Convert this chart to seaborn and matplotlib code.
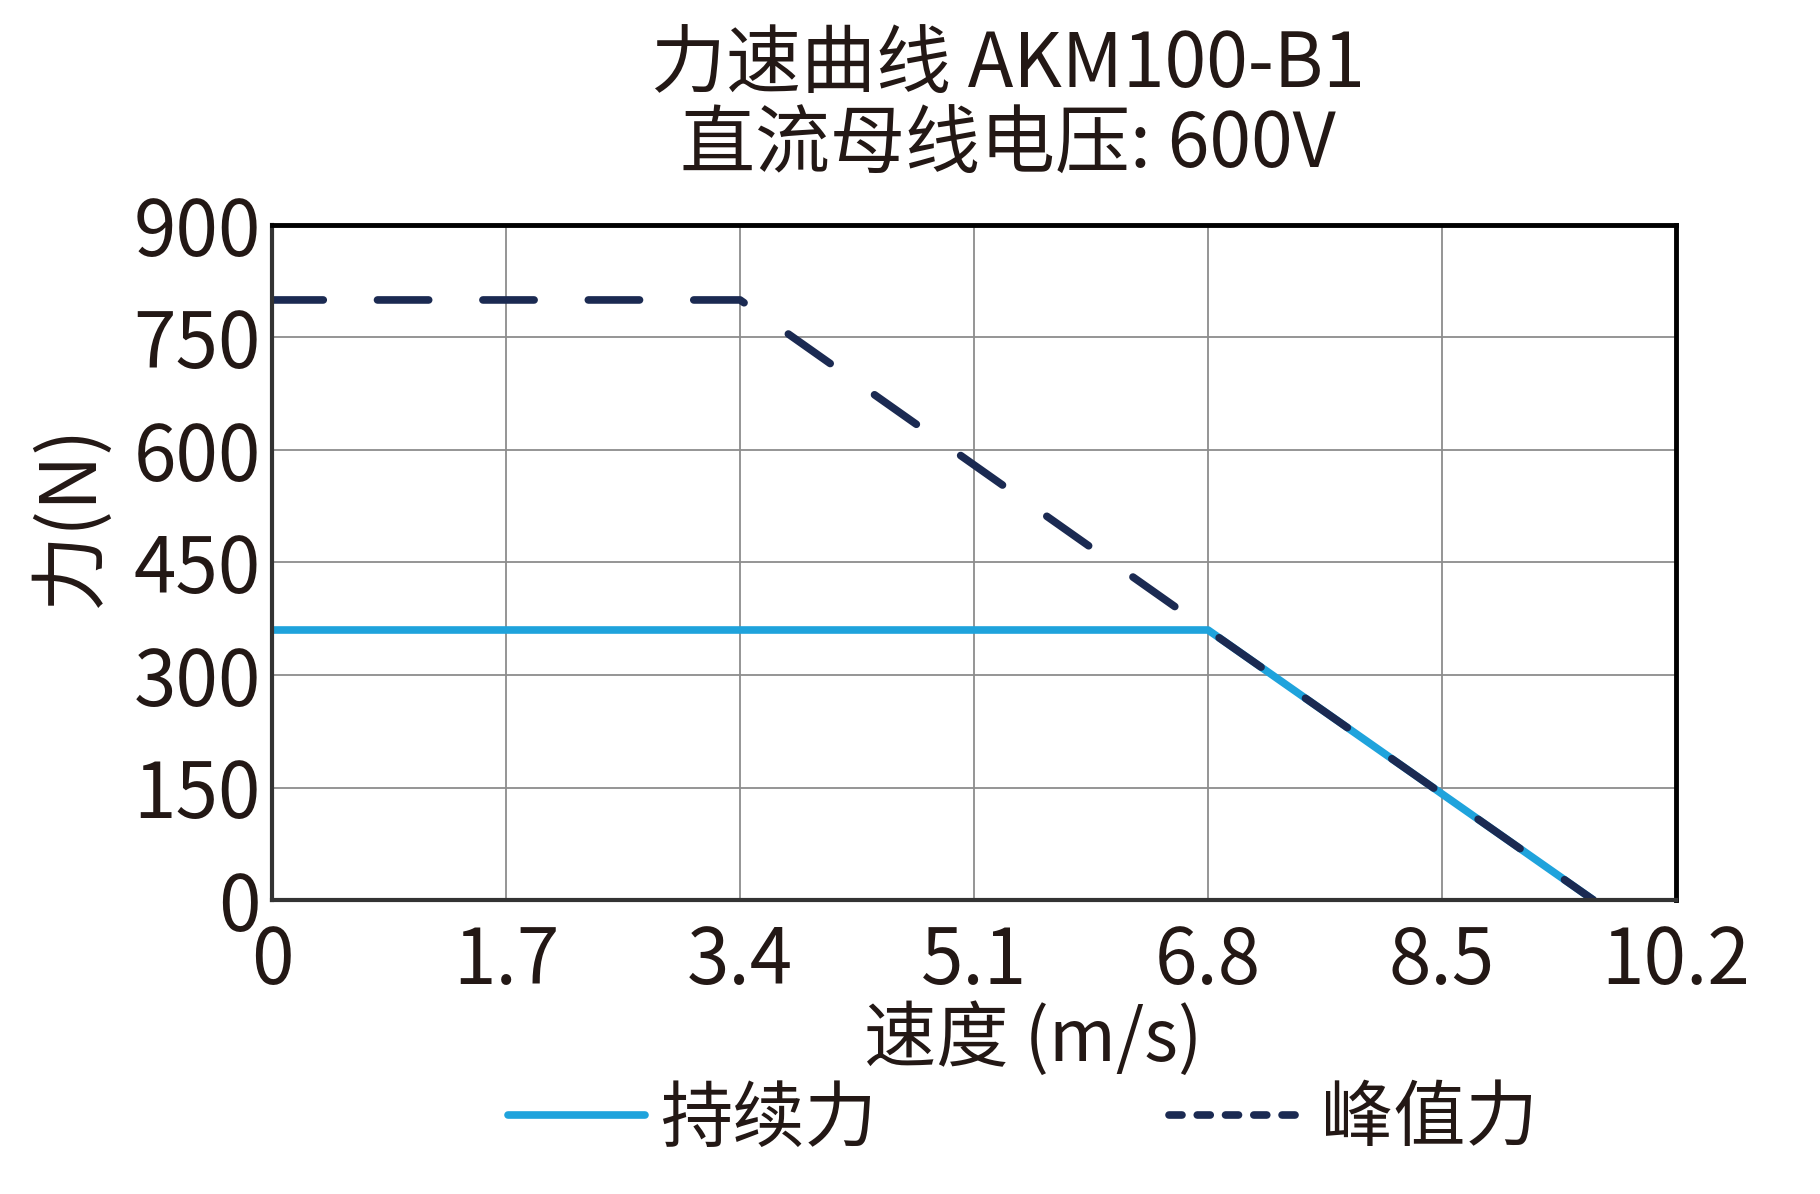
import matplotlib
matplotlib.use('Agg')
import matplotlib.pyplot as plt
import seaborn as sns
from matplotlib.lines import Line2D

# data
speed_cont = [0, 6.8, 9.6]
force_cont = [360, 360, 0]
speed_peak = [0, 3.4, 6.8, 9.6]
force_peak = [800, 800, 360, 0]

x_ticks = [0, 1.7, 3.4, 5.1, 6.8, 8.5, 10.2]
x_labels = ['0', '1.7', '3.4', '5.1', '6.8', '8.5', '10.2']
y_ticks = [0, 150, 300, 450, 600, 750, 900]

title = '力速曲线 AKM100-B1\n直流母线电压: 600V'
x_title = '速度 (m/s)'
y_title = '力(N)'
names = ['持续力', '峰值力']

blue = '#1fa3dc'
navy = '#1b2a52'
txt = '#231815'

sns.set_style('white')
plt.rcParams['font.family'] = ['Noto Sans CJK SC', 'DejaVu Sans']

fig = plt.figure(figsize=(18.2, 11.94), dpi=100)
ax = fig.add_axes([0.1495, 0.2462, 0.9209 - 0.1495, 0.8116 - 0.2462])

sns.lineplot(x=speed_cont, y=force_cont, color=blue, linewidth=5.5,
             sort=False, estimator=None, ax=ax)
sns.lineplot(x=speed_peak, y=force_peak, color=navy, linewidth=5.5,
             sort=False, estimator=None, ax=ax, linestyle=(0, (6.7, 7.1)))
ax.lines[0].set_solid_capstyle('butt')
ax.lines[1].set_dash_capstyle('round')
ax.lines[1].set_dash_joinstyle('round')

ax.set_xlim(0, 10.2)
ax.set_ylim(0, 900)
ax.set_xticks(x_ticks)
ax.set_xticklabels(x_labels)
ax.set_yticks(y_ticks)
ax.grid(True, color='#8c8c8c', linewidth=1.3)
ax.set_axisbelow(True)
for s in ['top', 'right']:
    ax.spines[s].set_color('black')
    ax.spines[s].set_linewidth(3.5)
for s in ['left', 'bottom']:
    ax.spines[s].set_color('#333333')
    ax.spines[s].set_linewidth(3)

ax.tick_params(axis='both', length=0, labelsize=55, colors=txt)
ax.tick_params(axis='x', pad=16)
ax.tick_params(axis='y', pad=8)

ax.set_xlabel(x_title, fontsize=52, color=txt)
ax.xaxis.set_label_coords(0.542, -0.152)
ax.set_ylabel(y_title, fontsize=55, color=txt)
ax.yaxis.set_label_coords(-0.115, 0.57)

fig.text(0.554, 0.977, title, ha='center', va='top', fontsize=54,
         color=txt, linespacing=1.05)

handles = [Line2D([], [], color=blue, linewidth=5.5, solid_capstyle='round'),
           Line2D([], [], color=navy, linewidth=5.5, linestyle=(0, (1.7, 2.0)),
                  dash_capstyle='round')]
leg = fig.legend(handles, names, loc='center', bbox_to_anchor=(0.562, 0.062),
                 ncol=2, frameon=False, fontsize=52, handlelength=1.9,
                 handletextpad=0.2, columnspacing=4.05)
for t in leg.get_texts():
    t.set_color(txt)

fig.savefig('out.png', dpi=100)
